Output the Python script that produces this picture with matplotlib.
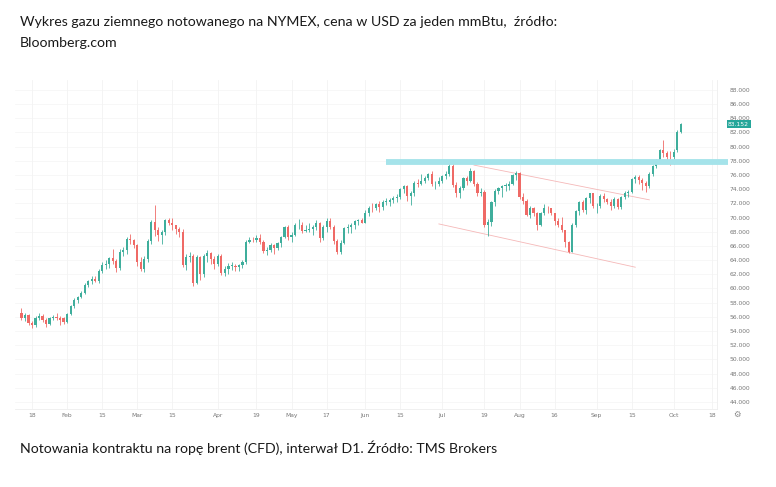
import matplotlib
matplotlib.use("Agg")
import matplotlib.pyplot as plt
import pandas as pd


# daily candles, Brent CFD, 13 Jan - 5 Oct 2021 (Good Friday closed)
dates = pd.bdate_range("2021-01-13", "2021-10-05").drop(pd.Timestamp("2021-04-02"))

opens = [56.5, 55.9, 56.3, 55.1, 54.8, 55.9, 56.1, 55.6, 55.0, 55.9, 56.0, 55.8, 55.8,
         55.3, 56.4, 57.5, 58.4, 58.8, 59.4, 60.5, 61.0, 61.4, 61.1, 62.4, 63.3, 63.4, 64.3, 63.9,
         62.9, 65.2, 65.4, 67.0, 66.9,
         66.1, 63.7, 62.7, 64.1, 66.7, 69.4, 68.2, 67.5, 67.9, 69.6, 69.2, 68.9, 68.4, 68.0, 63.3,
         64.5, 64.6, 60.8, 64.4, 62.0, 64.6, 65.0, 64.1,
         63.5, 64.6, 62.2, 62.7, 63.2, 63.2, 63.0, 63.3, 63.7, 66.6, 66.9, 66.8, 67.1, 66.6, 65.3,
         65.4, 66.1, 65.7, 66.4, 67.3, 68.6,
         67.3, 67.6, 68.9, 69.0, 68.1, 68.3, 68.4, 68.6, 69.3, 67.1, 68.7, 69.5, 68.7, 66.7, 65.1,
         66.4, 68.5, 68.7, 68.9, 69.5, 69.6,
         69.3, 70.6, 71.4, 71.3, 71.9, 71.5, 72.2, 72.2, 72.5, 72.7, 72.9, 74.0, 74.4, 73.1, 73.5,
         74.9, 74.8, 75.2, 75.6, 76.2, 74.7, 74.8,
         75.1, 75.8, 76.2, 77.3, 74.6, 73.5, 74.2, 75.6, 75.2, 76.6, 74.8, 73.5, 73.6, 68.9, 69.4,
         72.2, 73.8, 74.1, 74.5, 74.5, 74.7, 76.0,
         76.3, 72.9, 72.4, 70.4, 71.3, 70.7, 69.0, 70.6, 71.4, 71.3, 70.6, 69.5, 69.0, 68.2, 66.5,
         65.2, 69.0, 70.9, 72.2, 71.1, 72.7, 73.4,
         71.6, 71.6, 73.0, 72.6, 72.2, 71.7, 72.6, 71.5, 72.9, 73.5, 73.6, 75.5, 75.7, 75.3, 74.9,
         74.4, 76.2, 77.3, 78.1, 79.5, 79.1, 78.6,
         78.5, 79.5, 82.1]
highs = [57.3, 56.6, 56.4, 55.4, 56.1, 56.6, 56.4, 55.8, 56.0, 56.3, 56.6, 56.1, 56.0,
         56.6, 57.7, 58.6, 58.9, 59.6, 60.7, 61.2, 61.7, 61.8, 62.8, 63.7, 64.0, 64.5, 65.5, 64.1,
         65.5, 65.9, 67.2, 67.7, 67.0,
         66.3, 64.5, 64.6, 67.0, 69.7, 71.8, 68.7, 68.2, 69.8, 70.0, 69.9, 69.0, 68.6, 68.4, 64.9,
         65.2, 64.8, 64.7, 64.6, 64.8, 65.4, 65.2, 64.6,
         64.9, 64.8, 63.2, 63.6, 63.7, 63.5, 63.5, 64.0, 66.8, 67.3, 67.3, 67.5, 67.7, 66.8, 65.8,
         66.4, 66.3, 66.6, 67.4, 68.8, 68.9,
         67.9, 69.2, 69.8, 69.4, 68.9, 69.2, 68.9, 69.7, 69.4, 69.0, 70.0, 69.9, 69.0, 67.0, 66.8,
         68.6, 69.1, 69.2, 69.6, 69.8, 70.0,
         71.0, 71.6, 72.0, 72.1, 72.3, 72.5, 72.8, 72.7, 73.0, 73.3, 74.1, 74.6, 74.6, 73.8, 75.1,
         75.4, 76.1, 75.9, 76.3, 76.6, 75.2, 75.7,
         76.0, 76.6, 77.5, 78.1, 75.0, 74.5, 75.7, 75.9, 77.0, 76.7, 75.0, 74.1, 73.9, 69.8, 72.4,
         74.0, 74.3, 74.6, 74.9, 75.2, 76.1, 76.5,
         76.4, 73.4, 72.6, 71.6, 71.5, 70.8, 70.8, 71.9, 71.7, 71.4, 70.7, 69.9, 70.1, 68.3, 66.7,
         69.2, 71.0, 72.4, 72.5, 72.9, 73.5, 73.5,
         72.0, 73.3, 73.4, 72.8, 72.6, 72.9, 72.7, 73.0, 73.7, 73.9, 75.6, 76.0, 76.0, 75.6, 75.1,
         76.4, 77.4, 78.3, 79.7, 80.9, 79.4, 79.4,
         79.6, 82.3, 83.3]
lows = [55.6, 55.4, 54.8, 54.4, 54.6, 55.5, 55.3, 54.6, 54.9, 55.5, 55.6, 54.9, 55.0,
        55.1, 56.2, 57.3, 57.9, 58.6, 59.2, 60.2, 60.6, 60.9, 60.8, 62.2, 62.8, 62.9, 63.4, 62.3,
        62.6, 64.6, 64.8, 66.2, 65.7,
        63.1, 62.4, 62.3, 63.7, 66.3, 67.4, 66.7, 66.3, 67.6, 68.9, 68.3, 67.7, 67.2, 63.0, 62.6,
        63.7, 60.3, 60.6, 61.2, 61.6, 63.8, 63.5, 62.7,
        63.1, 61.9, 61.8, 62.1, 62.6, 62.5, 62.5, 62.9, 63.5, 66.4, 66.6, 66.6, 66.3, 65.0, 64.7,
        65.1, 64.9, 65.4, 65.9, 67.1, 66.9,
        66.6, 67.4, 68.4, 67.8, 67.9, 67.9, 67.6, 68.3, 66.5, 66.9, 68.0, 68.4, 66.2, 64.9, 64.9,
        66.2, 67.8, 67.8, 68.4, 68.9, 69.2,
        69.2, 70.2, 70.8, 71.0, 70.8, 71.1, 71.8, 71.6, 72.0, 72.2, 72.6, 73.5, 72.3, 71.8, 73.0,
        74.3, 74.6, 74.9, 75.3, 74.4, 74.0, 74.4,
        74.9, 75.5, 75.9, 74.3, 72.9, 72.7, 73.9, 74.6, 75.0, 74.5, 73.1, 73.1, 68.6, 67.4, 68.8,
        71.6, 73.3, 72.9, 73.7, 73.9, 74.6, 75.3,
        72.6, 71.9, 70.2, 70.0, 70.2, 68.3, 68.8, 70.3, 70.6, 70.4, 68.9, 68.7, 68.0, 65.9, 65.0,
        65.1, 68.7, 70.4, 70.8, 70.5, 72.0, 71.3,
        70.6, 71.3, 72.2, 71.9, 71.1, 71.4, 71.2, 71.2, 72.6, 72.9, 73.4, 74.9, 74.8, 73.9, 73.6,
        74.1, 75.9, 77.0, 77.9, 78.6, 77.9, 77.4,
        77.6, 79.2, 81.9]
closes = [55.9, 56.3, 55.1, 54.8, 55.9, 56.1, 55.6, 55.0, 55.9, 56.0, 55.8, 55.5, 55.3,
          56.4, 57.5, 58.4, 58.8, 59.3, 60.5, 61.0, 61.4, 61.1, 62.4, 63.3, 63.4, 64.3, 63.9, 62.9,
          65.2, 65.4, 67.0, 66.9, 66.1,
          63.7, 62.7, 64.1, 66.7, 69.4, 68.2, 67.5, 67.9, 69.6, 69.2, 68.9, 68.4, 68.0, 63.3, 64.5,
          64.6, 60.8, 64.4, 62.0, 64.6, 65.0, 64.1, 63.5,
          64.6, 62.2, 62.7, 63.2, 63.2, 63.0, 63.3, 63.7, 66.6, 66.9, 66.8, 67.1, 66.6, 65.3, 65.4,
          66.1, 65.7, 66.4, 67.3, 68.6, 67.3,
          67.6, 68.9, 69.0, 68.1, 68.3, 68.4, 68.6, 69.3, 67.1, 68.7, 69.5, 68.7, 66.7, 65.1, 66.4,
          68.5, 68.7, 68.9, 69.5, 69.6, 69.3,
          70.6, 71.4, 71.3, 71.9, 71.5, 72.2, 72.2, 72.5, 72.7, 72.9, 74.0, 74.4, 73.1, 73.5, 74.9,
          74.8, 75.2, 75.6, 76.2, 74.7, 74.8, 75.1,
          75.8, 76.2, 77.3, 74.6, 73.5, 74.2, 75.6, 75.2, 76.6, 74.8, 73.5, 73.6, 68.9, 69.4, 72.2,
          73.8, 74.1, 74.5, 74.5, 74.7, 76.0, 76.3,
          72.9, 72.4, 70.4, 71.3, 70.7, 69.0, 70.6, 71.4, 71.3, 70.6, 69.5, 69.0, 68.2, 66.5, 65.2,
          69.0, 70.9, 72.2, 71.1, 72.7, 73.4, 71.6,
          71.6, 73.0, 72.6, 72.2, 71.7, 72.6, 71.5, 72.9, 73.5, 73.6, 75.5, 75.7, 75.3, 74.9, 74.4,
          76.2, 77.3, 78.1, 79.5, 79.1, 78.6, 78.5,
          79.3, 82.1, 83.152]

# x-axis labels (TradingView style)
tick_dates = ["2021-01-18", "2021-02-01", "2021-02-15", "2021-03-01", "2021-03-15",
              "2021-04-01", "2021-04-19", "2021-05-03", "2021-05-17", "2021-06-01",
              "2021-06-15", "2021-07-01", "2021-07-19", "2021-08-02", "2021-08-16",
              "2021-09-01", "2021-09-15", "2021-10-01", "2021-10-18"]
tick_texts = ["18", "Feb", "15", "Mar", "15", "Apr", "19", "May", "17", "Jun",
              "15", "Jul", "19", "Aug", "16", "Sep", "15", "Oct", "18"]
price_ticks = list(range(44, 90, 2))

# drawn objects: resistance level and falling channel
resistance = 77.9
resistance_start = "2021-06-09"
channel_upper = (("2021-07-14", 77.4), ("2021-09-22", 72.5))
channel_lower = (("2021-06-30", 69.1), ("2021-09-16", 63.0))

GREEN = "#3fae9c"
RED = "#ef6a66"
TEXT = "#1a1a1a"

# index positions on a trading-day axis (future days for the right margin)
axis_days = pd.bdate_range("2021-01-13", "2021-10-29").drop(pd.Timestamp("2021-04-02"))
pos = {d.strftime("%Y-%m-%d"): i for i, d in enumerate(axis_days)}
x = [pos[d.strftime("%Y-%m-%d")] for d in dates]

fig = plt.figure(figsize=(7.76, 4.87), dpi=100)
ax = fig.add_axes([15 / 776, 1 - 409 / 487, 702 / 776, 329 / 487])

ax.set_xlim(-1.85, 198.3)
ax.set_ylim(43.0, 89.4)

for i in price_ticks:
    ax.axhline(i, color="#f6f6f6", lw=0.6, zorder=0)
for d in tick_dates:
    ax.axvline(pos[d], color="#f3f3f3", lw=0.6, zorder=0)

colors = [GREEN if c >= o else RED for o, c in zip(opens, closes)]
ax.vlines(x, lows, highs, colors=colors, lw=0.6, zorder=2)
bottoms = [min(o, c) for o, c in zip(opens, closes)]
heights = [max(abs(c - o), 0.08) for o, c in zip(opens, closes)]
ax.bar(x, heights, bottom=bottoms, width=0.62, color=colors, zorder=3)

# resistance band (runs into the price scale)
ax.plot([pos[resistance_start], 201.5], [resistance, resistance], color="#a5e3ea",
        lw=4.2, solid_capstyle="butt", zorder=4, clip_on=False)
for (d0, p0), (d1, p1) in (channel_upper, channel_lower):
    ax.plot([pos[d0], pos[d1]], [p0, p1], color="#f5b8b8", lw=0.6, zorder=1)

ax.yaxis.tick_right()
ax.set_yticks(price_ticks)
ax.set_yticklabels([f"{p:.3f}" for p in price_ticks])
ax.set_xticks([pos[d] for d in tick_dates])
ax.set_xticklabels(tick_texts)
ax.tick_params(axis="y", length=0, pad=9, labelsize=4.3, labelcolor="#777777")
ax.tick_params(axis="x", length=0, pad=3, labelsize=4.3, labelcolor="#777777")

for side in ["top", "left"]:
    ax.spines[side].set_visible(False)
ax.spines["bottom"].set_color("#eeeeee")
ax.spines["right"].set_color("#eeeeee")
ax.spines["bottom"].set_linewidth(0.6)
ax.spines["right"].set_linewidth(0.6)

# last price tag
ax.annotate(f"{closes[-1]:.3f}", xy=(1.0, closes[-1]), xycoords=("axes fraction", "data"),
            xytext=(8, 0), textcoords="offset points", ha="left", va="center",
            fontsize=4.3, color="white",
            bbox=dict(boxstyle="square,pad=0.25", fc="#26a69a", ec="none"))

# settings gear under price axis
fig.text(737 / 776, 1 - 414 / 487, "\u2699", ha="center", va="center",
         fontsize=6, color="#888888")

fig.text(20 / 776, 1 - 22 / 487,
         "Wykres gazu ziemnego notowanego na NYMEX, cena w USD za jeden mmBtu,  źródło:",
         ha="left", va="center", fontsize=10.2, color=TEXT, family=["Lato", "DejaVu Sans"])
fig.text(20 / 776, 1 - 43 / 487, "Bloomberg.com",
         ha="left", va="center", fontsize=10.2, color=TEXT, family=["Lato", "DejaVu Sans"])
fig.text(20 / 776, 1 - 448 / 487,
         "Notowania kontraktu na ropę brent (CFD), interwał D1. Źródło: TMS Brokers",
         ha="left", va="center", fontsize=10.2, color=TEXT, family=["Lato", "DejaVu Sans"])

fig.savefig("out.png", dpi=100)
